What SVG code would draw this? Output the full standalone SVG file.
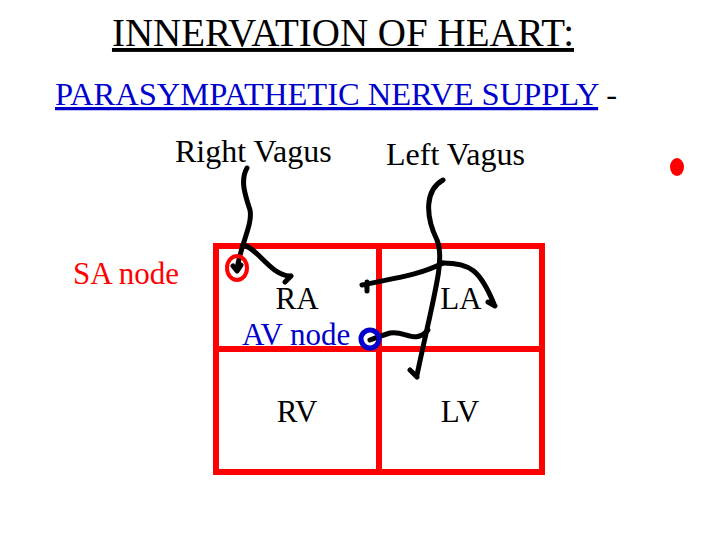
<svg xmlns="http://www.w3.org/2000/svg" width="720" height="540" viewBox="0 0 720 540">
<style>
.t{font-family:"Liberation Serif",serif;font-size:31px}
.w{fill:none;stroke:#000;stroke-width:5;stroke-linecap:round;stroke-linejoin:round}
.r{fill:none;stroke:#f00;stroke-width:6}
</style>
<rect width="720" height="540" fill="#fff"/>
<g id="title">
<text class="t" x="343" y="46" text-anchor="middle" style="font-size:39px" text-decoration="underline">INNERVATION OF HEART:</text>
</g>
<g id="subtitle">
<text class="t" x="55" y="105" fill="#00c" style="font-size:32.5px"><tspan text-decoration="underline">PARASYMPATHETIC NERVE SUPPLY</tspan><tspan fill="#000"> -</tspan></text>
</g>
<g id="labels">
<text class="t" x="175" y="162" style="font-size:32px">Right Vagus</text>
<text class="t" x="386" y="165" style="font-size:32px">Left Vagus</text>
<text class="t" x="73" y="284" fill="#f00">SA node</text>
<text class="t" x="297" y="309" text-anchor="middle">RA</text>
<text class="t" x="461" y="309" text-anchor="middle">LA</text>
<text class="t" x="242" y="345" fill="#00c">AV node</text>
<text class="t" x="297" y="422" text-anchor="middle">RV</text>
<text class="t" x="460" y="422" text-anchor="middle">LV</text>
</g>
<g id="heart">
<rect class="r" x="216" y="246" width="326" height="226"/>
<line class="r" x1="379" y1="246" x2="379" y2="472"/>
<line class="r" x1="216" y1="349" x2="542" y2="349"/>
</g>
<g id="connectors">
<path class="w" d="M247,168 C240,180 245,195 250,210 C253,225 240,245 237,270 M233,266 L237,271 L241,265"/>
<path class="w" d="M243,245 C258,248 270,275 290,276 M285,282 L291,276"/>
<path class="w" d="M443,180 C425,190 425,215 437,240 C445,260 435,290 417,375 M410,370 L417,377"/>
<path class="w" d="M443,263 C420,275 395,278 362,285 M367,291 L367,282"/>
<path class="w" d="M443,263 C470,263 480,270 494,304 M488,302 L495,306"/>
<path class="w" d="M428,330 C415,345 405,330 390,333 C380,336 375,338 370,340"/>
</g>
<g id="nodes">
<ellipse cx="237" cy="268" rx="10" ry="12" fill="none" stroke="#f00" stroke-width="4"/>
<circle cx="370" cy="339" r="9" fill="none" stroke="#00c" stroke-width="5"/>
<ellipse cx="677" cy="167" rx="7" ry="9" fill="#f00"/>
</g>
</svg>
